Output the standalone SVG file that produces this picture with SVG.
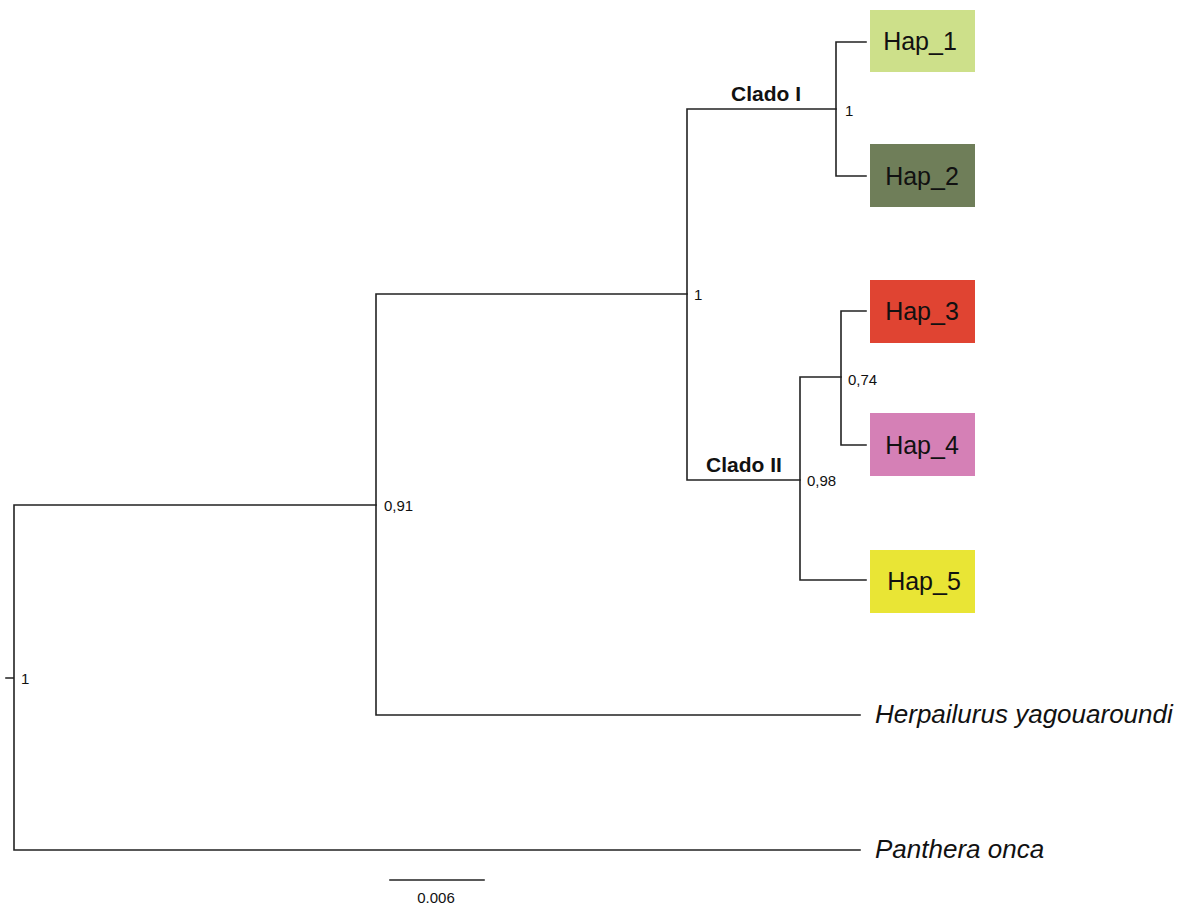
<svg xmlns="http://www.w3.org/2000/svg" width="1184" height="905" viewBox="0 0 1184 905">
<style>
.br{fill:none;stroke:#222;stroke-width:1.6;stroke-linecap:square}
.sup{font-family:"Liberation Sans",Arial,sans-serif;font-size:15px;fill:#111}
.clado{font-family:"Liberation Sans",Arial,sans-serif;font-size:21px;font-weight:bold;fill:#111}
.hap{font-family:"Liberation Sans",Arial,sans-serif;font-size:25px;fill:#111;text-anchor:middle}
.sp{font-family:"Liberation Sans",Arial,sans-serif;font-size:26px;font-style:italic;fill:#111}
</style>
<rect width="1184" height="905" fill="#fff"/>
<g id="connectors">
<path class="br" d="M6 678H14M14 505V850M14 505H376M14 850H860"/>
<path class="br" d="M376 294V715M376 294H687M376 715H860"/>
<path class="br" d="M687 109V480M687 109H836M687 480H800"/>
<path class="br" d="M836 42V176M836 42H866M836 176H866"/>
<path class="br" d="M800 377V580M800 377H841M800 580H866"/>
<path class="br" d="M841 311V445M841 311H866M841 445H866"/>
</g>
<g id="support-labels">
<text class="sup" x="21" y="684">1</text>
<text class="sup" x="384" y="511">0,91</text>
<text class="sup" x="694" y="300">1</text>
<text class="sup" x="845" y="116">1</text>
<text class="sup" x="807" y="486">0,98</text>
<text class="sup" x="848" y="385">0,74</text>
</g>
<g id="clado-I"><text class="clado" x="731" y="101">Clado I</text></g>
<g id="clado-II"><text class="clado" x="706" y="472">Clado II</text></g>
<g id="hap1"><rect x="870" y="10" width="105" height="62" fill="#cde08a"/><text class="hap" x="920" y="50">Hap_1</text></g>
<g id="hap2"><rect x="870" y="144" width="105" height="63" fill="#6f7e59"/><text class="hap" x="922" y="185">Hap_2</text></g>
<g id="hap3"><rect x="870" y="280" width="105" height="63" fill="#e04432"/><text class="hap" x="922" y="320">Hap_3</text></g>
<g id="hap4"><rect x="870" y="413" width="105" height="63" fill="#d580b6"/><text class="hap" x="922" y="454">Hap_4</text></g>
<g id="hap5"><rect x="870" y="550" width="105" height="63" fill="#e9e535"/><text class="hap" x="924" y="590">Hap_5</text></g>
<g id="herpailurus"><text class="sp" x="875" y="723">Herpailurus yagouaroundi</text></g>
<g id="panthera"><text class="sp" x="875" y="858">Panthera onca</text></g>
<g id="scale"><path class="br" d="M390 880H484" stroke-linecap="butt"/><text class="sup" x="436" y="903" text-anchor="middle" font-size="14">0.006</text></g>
</svg>
